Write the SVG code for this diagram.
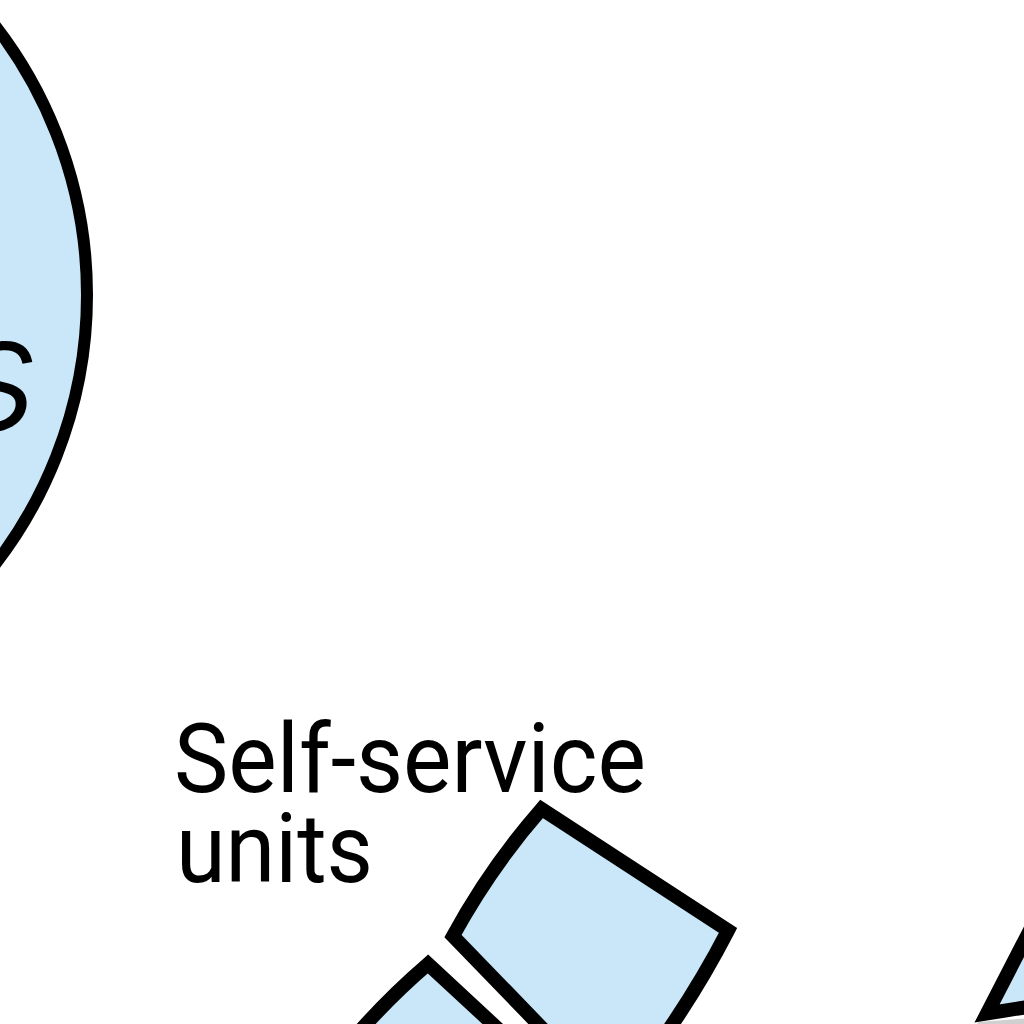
<svg xmlns="http://www.w3.org/2000/svg" width="1024" height="1024" viewBox="0 0 1024 1024">
  <style>
    .shape { fill: #c9e7f8; stroke: #000; stroke-width: 14; stroke-linejoin: miter; }
    .grey { fill: #d0d0d0; stroke: none; }
    .label { font-family: Roboto, "Liberation Sans", sans-serif; font-size: 97px; fill: #000; }
    .glyph { font-family: Inter, Lato, sans-serif; font-weight: 300; font-style: italic; font-size: 160px; fill: #000; }
  </style>
  <rect width="1024" height="1024" fill="#fff"/>
  <g id="hub">
    <circle cx="-353" cy="295" r="440" fill="#c9e7f8" stroke="#000" stroke-width="12"/>
    <text class="glyph" x="-44" y="430">s</text>
  </g>
  <g id="label-self-service">
    <text class="label" x="174" y="792" textLength="472" lengthAdjust="spacingAndGlyphs">Self-service</text>
    <text class="label" x="176" y="882" textLength="197" lengthAdjust="spacingAndGlyphs">units</text>
  </g>
  <g id="unit-1">
    <path class="shape" d="M 453,936 A 705 705 0 0 1 541.5,809 L 728,930.5 A 925 925 0 0 1 661.5,1040 L 553.5,1040 Z"/>
  </g>
  <g id="unit-2">
    <path class="shape" d="M 428,964 L 510,1040 L 352,1040 A 705 705 0 0 1 428,964 Z"/>
  </g>
  <g id="unit-3">
    <polygon class="grey" points="978,1022 1030,1018 1030,1030 975,1030"/>
    <path class="shape" d="M 1062,868 L 987,1013.5 L 1040,1005 L 1040,868 Z"/>
  </g>
  <g id="connectors"></g>
</svg>
